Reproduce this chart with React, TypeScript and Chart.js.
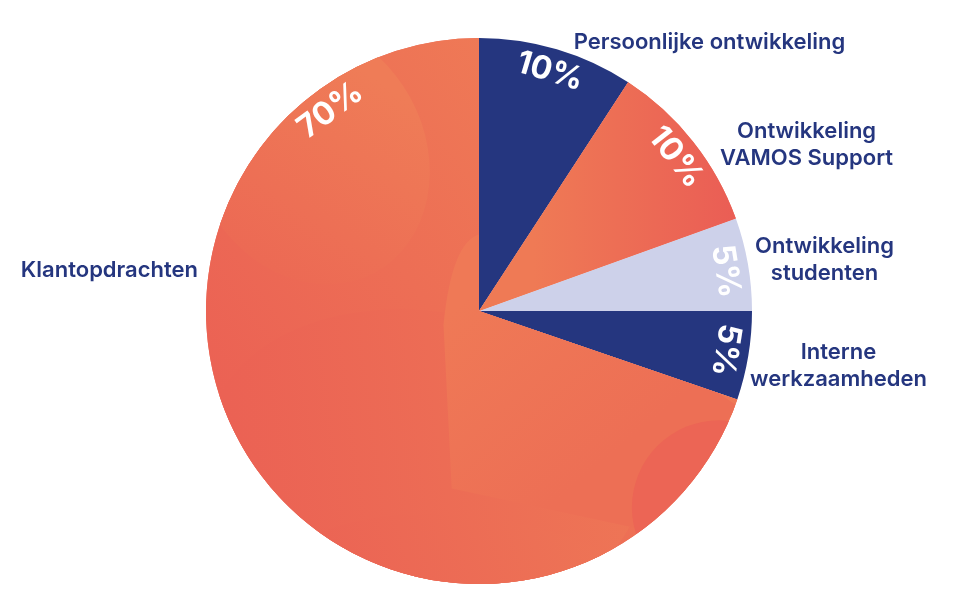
import React, { useEffect, useRef } from "react";
import { Chart, registerables } from "chart.js";

Chart.register(...registerables);

// ---- data ----
const categories: string[][] = [
  ["Persoonlijke ontwikkeling"],
  ["Ontwikkeling", "VAMOS Support"],
  ["Ontwikkeling", "studenten"],
  ["Interne", "werkzaamheden"],
  ["Klantopdrachten"],
];
// slice sizes as drawn in the picture (percent of circle)
const shares: number[] = [9.2, 10.3, 5.5, 5.25, 69.75];
// percentages as printed on the slices
const pctLabels: string[] = ["10%", "10%", "5%", "5%", "70%"];
const sliceColors: string[] = ["#25367F", "#EE7055", "#CDD1EA", "#25367F", "#EC6A55"];
const gradientSlices: number[] = [1, 4];

// ---- layout (degrees clockwise from 12 o'clock, distances as fraction of radius) ----
const pctAngles: number[] = [16.5, 52, 80.8, 99, 323.5];
const pctRadius = 0.915;
const labelAngles: number[] = [19.4, 55.4, 79.6, 101.5, 278.3];
const labelDist: number[] = [1.044, 1.073, 1.028, 1.013, 1.04];

const NAVY = "#25367F";
const FONT = "Inter, 'Noto Sans', sans-serif";

const toCanvasAngle = (deg: number) => ((deg - 90) * Math.PI) / 180;

const decoPlugin = {
  id: "deco",
  afterDatasetsDraw(chart: any) {
    const ctx: CanvasRenderingContext2D = chart.ctx;
    const meta = chart.getDatasetMeta(0);
    const arcs = meta.data;
    if (!arcs.length) return;
    const cx = arcs[0].x;
    const cy = arcs[0].y;
    const R = arcs[0].outerRadius;

    const clipArc = (arc: any) => {
      ctx.beginPath();
      ctx.moveTo(cx, cy);
      ctx.arc(cx, cy, R, arc.startAngle, arc.endAngle);
      ctx.closePath();
      ctx.clip();
    };

    // gradient fills + soft blobs for orange slices
    gradientSlices.forEach((i) => {
      const arc = arcs[i];
      ctx.save();
      clipArc(arc);
      if (i === 1) {
        const g = ctx.createLinearGradient(cx + R * 0.2, 0, cx + R * 0.95, 0);
        g.addColorStop(0, "#EF7A55");
        g.addColorStop(1, "#EA5D55");
        ctx.fillStyle = g;
        ctx.fillRect(cx - R, cy - R, 2 * R, 2 * R);
      } else {
        const g = ctx.createLinearGradient(cx - R * 0.8, cy + R * 0.6, cx + R * 0.6, cy - R * 0.4);
        g.addColorStop(0, "#EB6154");
        g.addColorStop(1, "#EF7B56");
        ctx.fillStyle = g;
        ctx.fillRect(cx - R, cy - R, 2 * R, 2 * R);

        // upper-left lighter blob
        const b1 = ctx.createLinearGradient(cx - R * 0.9, cy + R * 0.1, cx - R * 0.3, cy - R * 0.8);
        b1.addColorStop(0, "#EB6353");
        b1.addColorStop(1, "#EF7C57");
        ctx.fillStyle = b1;
        ctx.beginPath();
        ctx.ellipse(cx - R * 0.62, cy - R * 0.58, R * 0.42, R * 0.5, -0.5, 0, Math.PI * 2);
        ctx.fill();

        // large lower blob
        const b2 = ctx.createLinearGradient(cx - R * 0.9, cy + R * 0.5, cx + R * 0.6, cy + R * 0.3);
        b2.addColorStop(0, "#EB6254");
        b2.addColorStop(1, "#EE7656");
        ctx.fillStyle = b2;
        ctx.beginPath();
        ctx.ellipse(cx - R * 0.2, cy + R * 0.55, R * 0.8, R * 0.55, 0.15, 0, Math.PI * 2);
        ctx.fill();

        // central lighter wedge
        const b3 = ctx.createLinearGradient(cx - R * 0.1, cy, cx + R * 0.4, cy + R * 0.6);
        b3.addColorStop(0, "#EF7956");
        b3.addColorStop(1, "#ED6F55");
        ctx.fillStyle = b3;
        ctx.beginPath();
        ctx.moveTo(cx - R * 0.13, cy + R * 0.05);
        ctx.quadraticCurveTo(cx - R * 0.1, cy - R * 0.25, cx, cy - R * 0.28);
        ctx.lineTo(cx + R * 0.95, cy + R * 0.35);
        ctx.lineTo(cx + R * 0.6, cy + R * 0.8);
        ctx.lineTo(cx - R * 0.1, cy + R * 0.65);
        ctx.closePath();
        ctx.fill();

        // lower blob over the wedge
        const b4 = ctx.createLinearGradient(cx - R * 0.7, cy + R, cx + R * 0.6, cy + R * 0.6);
        b4.addColorStop(0, "#EB6254");
        b4.addColorStop(1, "#EE7756");
        ctx.fillStyle = b4;
        ctx.beginPath();
        ctx.ellipse(cx - R * 0.05, cy + R * 1.05, R * 0.7, R * 0.3, 0.1, 0, Math.PI * 2);
        ctx.fill();

        // right-bottom red blob
        ctx.fillStyle = "#EC6555";
        ctx.beginPath();
        ctx.arc(cx + R * 0.88, cy + R * 0.72, R * 0.32, 0, Math.PI * 2);
        ctx.fill();
      }
      ctx.restore();
    });

    // percentage labels
    ctx.save();
    ctx.fillStyle = "#FFFFFF";
    ctx.font = `700 32px ${FONT}`;
    ctx.textAlign = "center";
    ctx.textBaseline = "middle";
    pctLabels.forEach((txt, i) => {
      const deg = pctAngles[i];
      const a = toCanvasAngle(deg);
      const x = cx + R * pctRadius * Math.cos(a);
      const y = cy + R * pctRadius * Math.sin(a);
      ctx.save();
      ctx.translate(x, y);
      ctx.rotate((deg * Math.PI) / 180);
      ctx.fillText(txt, 0, 0);
      ctx.restore();
    });
    ctx.restore();

    // category labels
    ctx.save();
    ctx.fillStyle = NAVY;
    ctx.font = `600 22px ${FONT}`;
    ctx.textBaseline = "middle";
    const lineH = 27;
    categories.forEach((lines, i) => {
      const deg = labelAngles[i];
      const a = toCanvasAngle(deg);
      const ax = cx + R * labelDist[i] * Math.cos(a);
      const ay = cy + R * labelDist[i] * Math.sin(a);
      const widths = lines.map((l) => ctx.measureText(l).width);
      const bw = Math.max(...widths);
      const right = deg > 180;
      const blockLeft = right ? ax - bw : ax;
      const mid = blockLeft + bw / 2;
      ctx.textAlign = "center";
      lines.forEach((l, k) => {
        const y = ay + (k - (lines.length - 1) / 2) * lineH;
        ctx.fillText(l, mid, y);
      });
    });
    ctx.restore();
  },
};

export default function App() {
  const ref = useRef<HTMLCanvasElement | null>(null);
  useEffect(() => {
    document.body.style.margin = "0";
    if (!ref.current) return;
    const chart = new Chart(ref.current, {
      type: "pie",
      data: {
        labels: categories.map((c) => c.join(" ")),
        datasets: [
          {
            data: shares,
            backgroundColor: sliceColors,
            borderWidth: 0,
          },
        ],
      },
      options: {
        responsive: false,
        animation: false,
        layout: { padding: { left: 206, right: 201, top: 38, bottom: 22 } },
        plugins: {
          legend: { display: false },
          tooltip: { enabled: false },
        },
      },
      plugins: [decoPlugin],
    });
    return () => chart.destroy();
  }, []);
  return (
    <div style={{ width: 953, height: 606, background: "#fff" }}>
      <canvas ref={ref} width={953} height={606} style={{ width: 953, height: 606 }} />
    </div>
  );
}
